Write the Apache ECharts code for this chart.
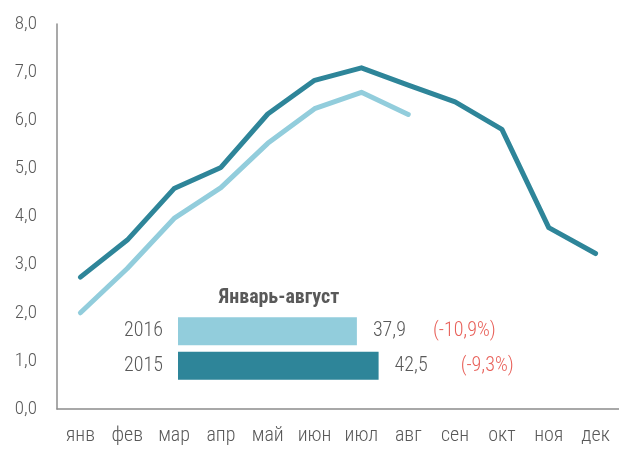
<!DOCTYPE html>
<html>
<head>
    <meta charset="utf-8">
    <title>Январь-август</title>
    <script src="https://cdn.jsdelivr.net/npm/echarts@6/dist/echarts.min.js"></script>
    <style>
        html, body { margin: 0; padding: 0; background: #fff; }
        #chart { width: 619px; height: 449px; }
    </style>
</head>
<body>
<div id="chart"></div>
<script type="text/javascript">
    // месяцы
    var months = ['янв', 'фев', 'мар', 'апр', 'май', 'июн', 'июл', 'авг', 'сен', 'окт', 'ноя', 'дек'];
    var yTicks = [0, 1, 2, 3, 4, 5, 6, 7, 8];
    // помесячные значения
    var data2015 = [2.74, 3.51, 4.58, 5.02, 6.13, 6.83, 7.09, 6.73, 6.38, 5.81, 3.77, 3.23];
    var data2016 = [2.0, 2.92, 3.96, 4.6, 5.52, 6.24, 6.58, 6.12];
    // январь-август
    var ytdYears = ['2016', '2015'];
    var ytdValues = [37.9, 42.5];
    var ytdLabels = ['37,9', '42,5'];
    var ytdChange = ['(-10,9%)', '(-9,3%)'];

    var font = "'Roboto Condensed', 'Roboto', sans-serif";
    var grey = '#595959';
    var dark = '#2e8599';
    var light = '#92cddc';

    var myChart = echarts.init(document.getElementById('chart'));
    myChart.setOption({
        animation: false,
        textStyle: { fontFamily: font },
        grid: [
            { left: 57, top: 24, width: 565, height: 385 },
            { left: 178, top: 314, width: 236, height: 69 }
        ],
        xAxis: [
            {
                gridIndex: 0,
                type: 'category',
                data: months,
                boundaryGap: true,
                axisLine: { lineStyle: { color: '#8c8c8c', width: 1.5 } },
                axisTick: { show: false },
                axisLabel: { color: grey, fontSize: 20, fontWeight: 300, fontFamily: font, margin: 17 }
            },
            {
                gridIndex: 1,
                type: 'value',
                min: 0,
                max: 50,
                show: false
            }
        ],
        yAxis: [
            {
                gridIndex: 0,
                type: 'value',
                min: 0,
                max: 8,
                interval: 1,
                splitLine: { show: false },
                axisLine: { show: true, lineStyle: { color: '#8c8c8c', width: 1.5 } },
                axisTick: { show: false },
                axisLabel: {
                    color: grey, fontSize: 19, fontWeight: 300, fontFamily: font, margin: 20,
                    formatter: function (v) { return yTicks.indexOf(v) >= 0 ? v.toFixed(1).replace('.', ',') : ''; }
                }
            },
            {
                gridIndex: 1,
                type: 'category',
                data: ytdYears,
                inverse: true,
                axisLine: { show: false },
                axisTick: { show: false },
                axisLabel: { color: grey, fontSize: 20, fontWeight: 300, fontFamily: font, margin: 15 }
            }
        ],
        title: {
            text: 'Январь-август',
            left: 274,
            top: 283,
            textAlign: 'center',
            textStyle: { color: grey, fontSize: 20, fontWeight: 'bold', fontFamily: font }
        },
        series: [
            {
                name: '2015',
                type: 'line',
                data: data2015,
                symbol: 'none',
                lineStyle: { color: dark, width: 5, cap: 'round', join: 'round' },
                z: 3
            },
            {
                name: '2016',
                type: 'line',
                data: data2016,
                symbol: 'none',
                lineStyle: { color: light, width: 5, cap: 'round', join: 'round' },
                z: 2
            },
            {
                name: 'Январь-август',
                type: 'bar',
                xAxisIndex: 1,
                yAxisIndex: 1,
                barWidth: 28,
                data: ytdValues.map(function (v, i) {
                    return { value: v, itemStyle: { color: i === 0 ? light : dark } };
                }),
                label: {
                    show: true,
                    position: 'right',
                    distance: 16,
                    formatter: function (p) {
                        var style = p.dataIndex === 0 ? 'p' : 'q';
                        return '{v|' + ytdLabels[p.dataIndex] + '}{' + style + '|' + ytdChange[p.dataIndex] + '}';
                    },
                    rich: {
                        v: { color: grey, fontSize: 20, fontWeight: 300, fontFamily: font },
                        p: { color: '#e8615a', fontSize: 20, fontWeight: 300, fontFamily: font, padding: [0, 0, 0, 27] },
                        q: { color: '#e8615a', fontSize: 20, fontWeight: 300, fontFamily: font, padding: [0, 0, 0, 33] }
                    }
                }
            }
        ]
    });
</script>
</html>
